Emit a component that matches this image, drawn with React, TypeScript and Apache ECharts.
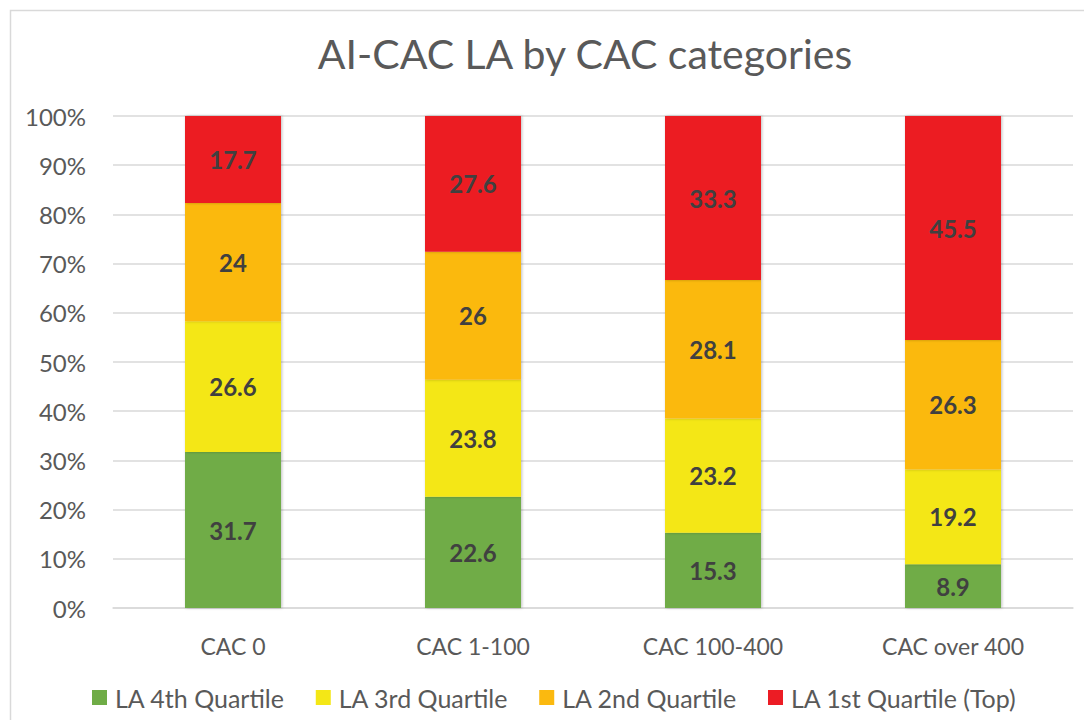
import React, { useEffect, useRef } from "react";
import * as echarts from "echarts";

const categories = ["CAC 0", "CAC 1-100", "CAC 100-400", "CAC over 400"];
const q4 = [31.7, 22.6, 15.3, 8.9];
const q3 = [26.6, 23.8, 23.2, 19.2];
const q2 = [24, 26, 28.1, 26.3];
const q1 = [17.7, 27.6, 33.3, 45.5];
const seriesNames = ["LA 4th Quartile", "LA 3rd Quartile", "LA 2nd Quartile", "LA 1st Quartile (Top)"];
const seriesColors = ["#6FAC46", "#F4E716", "#FBB90F", "#EC1C24"];
const yTicks = [0, 10, 20, 30, 40, 50, 60, 70, 80, 90, 100];

const FONT = "Lato, 'Open Sans', sans-serif";

export default function App() {
  const ref = useRef<HTMLDivElement>(null);
  useEffect(() => {
    if (!ref.current) return;
    const chart = echarts.init(ref.current, undefined, { renderer: "svg" });
    const all = [q4, q3, q2, q1];
    const totals = categories.map((_, i) => all.reduce((s, arr) => s + arr[i], 0));
    const series = all.map((arr, si) => ({
      name: seriesNames[si],
      type: "bar",
      stack: "total",
      barWidth: "40%",
      itemStyle: {
        color: seriesColors[si],
        shadowColor: "rgba(0,0,0,0.25)",
        shadowBlur: 3,
        shadowOffsetX: 1,
        shadowOffsetY: 0,
      },
      label: {
        show: true,
        position: "inside",
        color: "#404040",
        fontFamily: FONT,
        fontWeight: "bold",
        fontSize: 24,
        formatter: (p: any) => String(arr[p.dataIndex]),
      },
      data: arr.map((v, i) => (v / totals[i]) * 100),
    }));
    chart.setOption({
      animation: false,
      textStyle: { fontFamily: FONT },
      title: {
        text: "AI-CAC LA by CAC categories",
        left: 580,
        textAlign: "center",
        top: 28,
        textStyle: { fontFamily: FONT, fontSize: 41, fontWeight: "normal", color: "#595959" },
      },
      graphic: [
        {
          type: "rect",
          shape: { x: 10.5, y: 10.5, width: 1090, height: 720 },
          style: { fill: "none", stroke: "#D9D9D9", lineWidth: 1.5 },
          silent: true,
        },
      ],
      legend: {
        bottom: 5,
        left: 87,
        icon: "rect",
        itemWidth: 15,
        itemHeight: 15,
        itemGap: 31,
        textStyle: { fontFamily: FONT, fontSize: 25, color: "#595959", padding: [0, 0, 0, 3] },
        data: seriesNames,
      },
      grid: { left: 113, right: 11, top: 116, bottom: 112, containLabel: false },
      xAxis: {
        type: "category",
        data: categories,
        axisLine: { show: true, lineStyle: { color: "#D9D9D9", width: 1.5 } },
        axisTick: { show: false },
        axisLabel: { color: "#595959", fontSize: 23, fontFamily: FONT, margin: 26 },
      },
      yAxis: {
        type: "value",
        min: yTicks[0],
        max: yTicks[yTicks.length - 1],
        interval: yTicks[1] - yTicks[0],
        axisLine: { show: false },
        axisTick: { show: false },
        splitLine: { lineStyle: { color: "#D9D9D9", width: 1.5 } },
        axisLabel: { color: "#595959", fontSize: 24, fontFamily: FONT, margin: 27, formatter: "{value}%" },
      },
      series,
    });
    return () => chart.dispose();
  }, []);
  return (
    <div
      ref={ref}
      style={{ position: "absolute", left: 0, top: 0, width: 1084, height: 720, background: "#fff" }}
    />
  );
}
